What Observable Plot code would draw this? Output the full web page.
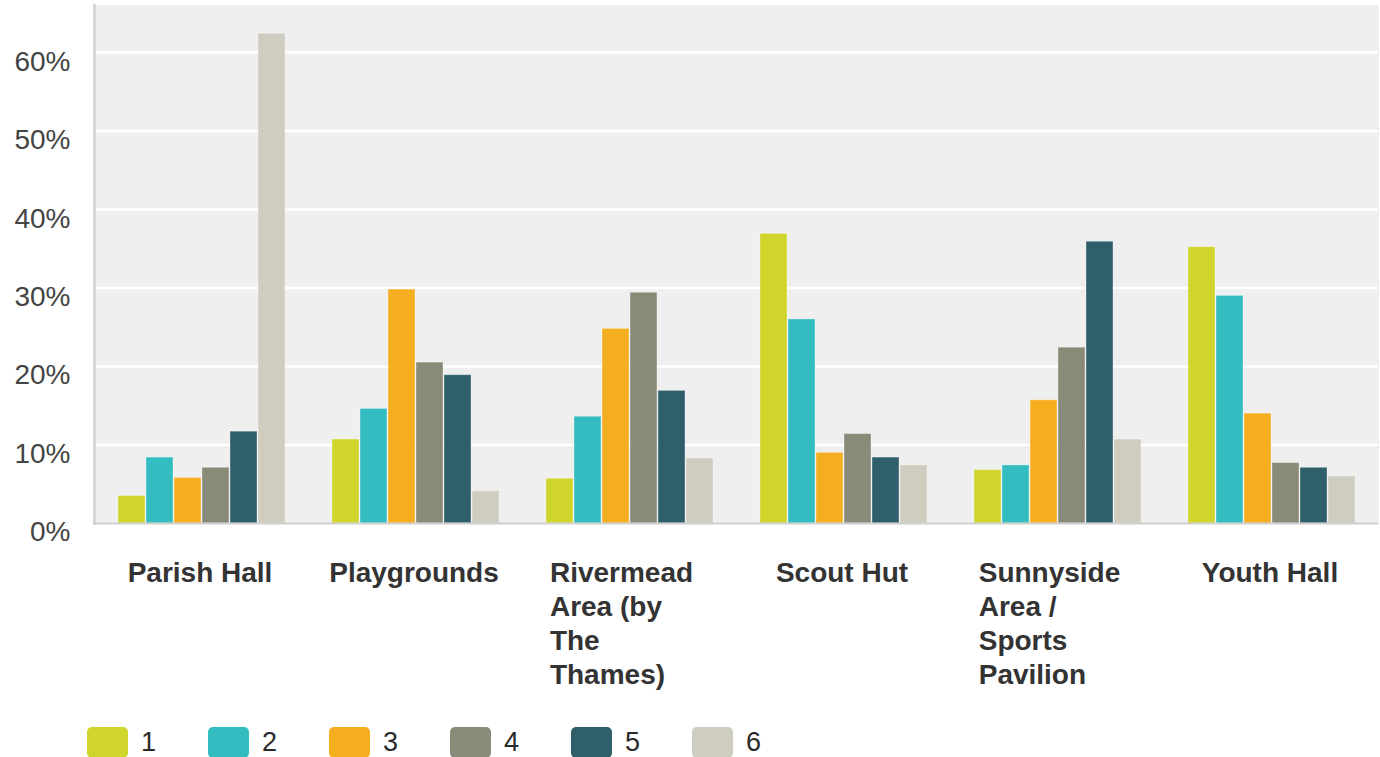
<!DOCTYPE html>
<html>
<head>
<meta charset="utf-8">
<script src="https://cdn.jsdelivr.net/npm/d3@7"></script>
<script src="https://cdn.jsdelivr.net/npm/@observablehq/plot@0.6"></script>
<style>
  html, body { margin: 0; padding: 0; background: #fff; }
  body { width: 1380px; height: 757px; overflow: hidden; font-family: "Liberation Sans", Arial, sans-serif; }
  #legend { display: flex; align-items: center; height: 57px; box-sizing: border-box; padding-left: 87px; padding-top: 28px; }
  .item { display: flex; align-items: center; width: 121px; }
  .sw { width: 41px; height: 31px; border-radius: 5px; margin-right: 13px; }
  .lab { font-size: 27px; color: #2a2a2a; }
</style>
</head>
<body>
<div id="chart"></div>
<div id="legend"></div>
<script>
const categories = ["Parish Hall", "Playgrounds", "Rivermead Area (by The Thames)", "Scout Hut", "Sunnyside Area / Sports Pavilion", "Youth Hall"];
const categoryLabels = ["Parish Hall", "Playgrounds", "Rivermead\nArea (by\nThe\nThames)", "Scout Hut", "Sunnyside\nArea /\nSports\nPavilion", "Youth Hall"];
const series = ["1", "2", "3", "4", "5", "6"];
const colors = ["#cfd52a", "#33bdc0", "#f6ae21", "#8a8a78", "#2e5f6b", "#cfcdbf"];
const series1 = [3.5, 10.7, 5.7, 36.9, 6.8, 35.2];
const series2 = [8.4, 14.6, 13.6, 26.0, 7.4, 29.0];
const series3 = [5.8, 29.8, 24.8, 9.0, 15.7, 14.0];
const series4 = [7.1, 20.5, 29.4, 11.4, 22.4, 7.7];
const series5 = [11.7, 18.9, 16.9, 8.4, 35.9, 7.1];
const series6 = [62.4, 4.1, 8.3, 7.4, 10.7, 6.0];
const yTicks = [0, 10, 20, 30, 40, 50, 60];
const yTickLabels = ["0%", "10%", "20%", "30%", "40%", "50%", "60%"];

const allSeries = [series1, series2, series3, series4, series5, series6];
const data = [];
categories.forEach((c, i) => {
  series.forEach((s, j) => data.push({category: c, series: s, value: allSeries[j][i]}));
});

const labelFont = "bold 28px 'Liberation Sans'";
const ctx = document.createElement("canvas").getContext("2d");
ctx.font = labelFont;
const blockWidth = (t) => {
  const lines = t.split("\n");
  const w = Math.max(...lines.map(l => ctx.measureText(l).width));
  return lines.length > 1 ? w + 16 : w + 3;
};

const labelMarks = categories.map((c, i) => Plot.text([c], {
  fx: d => d,
  frameAnchor: "bottom",
  text: () => categoryLabels[i],
  textAnchor: "start",
  lineAnchor: "top",
  dx: -blockWidth(categoryLabels[i]) / 2,
  dy: 34,
  fontSize: 28,
  fontWeight: "bold",
  fontFamily: "'Liberation Sans', Arial, sans-serif",
  lineHeight: 1.22,
  fill: "#333"
}));

const chart = Plot.plot({
  width: 1380,
  height: 700,
  marginLeft: 92,
  marginRight: 0,
  marginTop: 5,
  marginBottom: 177,
  style: {fontFamily: "'Liberation Sans', Arial, sans-serif", background: "#fff"},
  fx: {domain: categories, padding: 0, axis: null},
  x: {domain: series, paddingInner: 0.05, paddingOuter: 0.78, axis: null},
  y: {domain: [0, 66]},
  color: {domain: series, range: colors},
  marks: [
    Plot.frame({fill: "#efefef", stroke: "#efefef", strokeWidth: 1}),
    Plot.gridY(yTicks.slice(1), {stroke: "#fff", strokeOpacity: 1, strokeWidth: 2.5}),
    Plot.frame({anchor: "left", facetAnchor: "left", stroke: "#d6d6d6", strokeWidth: 3}),
    Plot.barY(data, {fx: "category", x: "series", y: "value", fill: "series", stroke: "#fff", strokeOpacity: 0.35, strokeWidth: 1}),
    Plot.ruleY([0], {stroke: "#cfcfcf", strokeWidth: 2}),
    Plot.axisY(yTicks, {tickFormat: (d) => yTickLabels[yTicks.indexOf(d)], tickSize: 0, tickPadding: 24, dy: 9, fontSize: 28, fill: "#444", label: null}),
    ...labelMarks
  ]
});
document.getElementById("chart").appendChild(chart);

const legend = document.getElementById("legend");
series.forEach((s, j) => {
  const item = document.createElement("div");
  item.className = "item";
  const sw = document.createElement("div");
  sw.className = "sw";
  sw.style.background = colors[j];
  const lab = document.createElement("span");
  lab.className = "lab";
  lab.textContent = s;
  item.appendChild(sw);
  item.appendChild(lab);
  legend.appendChild(item);
});
</script>
</body>
</html>
